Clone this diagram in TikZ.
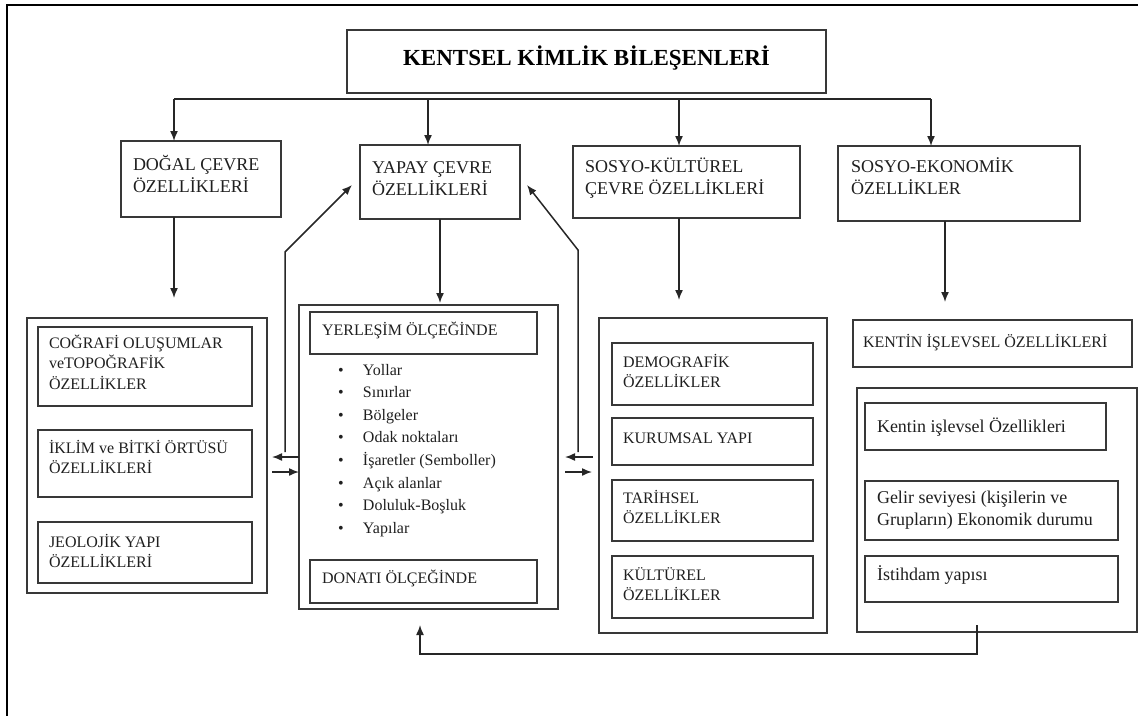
\documentclass[tikz,border=0pt]{standalone}
\usepackage{fontspec}
\setmainfont{Liberation Serif}
\usetikzlibrary{arrows.meta,calc}
\newcommand\mystrut{\rule{0pt}{1em}}
\newcommand\fntTwo{\fontsize{18}{22}\selectfont}
\newcommand\fntThree{\fontsize{16}{20.5}\selectfont}
\newcommand\fntList{\fontsize{16}{22.6}\selectfont}
\newcommand\fntRight{\fontsize{18}{22.5}\selectfont}
\begin{document}
\begin{tikzpicture}[x=1pt,y=-1pt,
  box/.style={draw=black!78, line width=1.7pt, rectangle, inner sep=0pt, outer sep=0pt, anchor=north west},
  lbl/.style={anchor=north west, inner sep=0pt, outer sep=0pt, align=left, text=black!88},
  ln/.style={draw=black!85, line width=1.5pt},
  arr/.style={ln, -{Latex[length=10pt,width=8pt]}},
  frameline/.style={draw=black, line width=2pt}]
\useasboundingbox (0,0) rectangle (1138,715);
\draw[frameline] (7,716) -- (7,5) -- (1139,5);

% title
\node[box, minimum width=479pt, minimum height=63pt] (title) at (347,30) {};
\node[anchor=base, inner sep=0pt, font=\fontsize{23}{27}\selectfont\bfseries] (tTitle) at (586.5,65) {KENTSEL KİMLİK BİLEŞENLERİ};

% level 2
\node[box, minimum width=160pt, minimum height=76pt] (dogal) at (121,141) {};
\node[box, minimum width=160pt, minimum height=74pt] (yapay) at (360,145) {};
\node[box, minimum width=227pt, minimum height=72pt] (sosk) at (573,146) {};
\node[box, minimum width=242pt, minimum height=75pt] (sose) at (838,146) {};
\node[lbl, font=\fntTwo] (tDogal) at (133,152) {\mystrut DOĞAL ÇEVRE\\ÖZELLİKLERİ};
\node[lbl, font=\fntTwo] (tYapay) at (372,155) {\mystrut YAPAY ÇEVRE\\ÖZELLİKLERİ};
\node[lbl, font=\fntTwo] (tSosk) at (585,154) {\mystrut SOSYO-KÜLTÜREL\\ÇEVRE ÖZELLİKLERİ};
\node[lbl, font=\fntTwo] (tSose) at (851,154) {\mystrut SOSYO-EKONOMİK\\ÖZELLİKLER};

% top connectors
\coordinate (h1) at (174,99);
\coordinate (h2) at (428,99);
\coordinate (h3) at (679,99);
\coordinate (h4) at (931,99);
\draw[ln] (h1) -- (h4);
\draw[arr] (h1) -- (h1 |- dogal.north);
\draw[arr] (h2) -- (h2 |- yapay.north);
\draw[arr] (h3) -- (h3 |- sosk.north);
\draw[arr] (h4) -- (h4 |- sose.north);

% down arrows
\coordinate (d1) at (174,298);
\coordinate (d2) at (440,303);
\coordinate (d3) at (679,300);
\coordinate (d4) at (945,302);
\draw[arr] (d1 |- dogal.south) -- (d1);
\draw[arr] (d2 |- yapay.south) -- (d2);
\draw[arr] (d3 |- sosk.south) -- (d3);
\draw[arr] (d4 |- sose.south) -- (d4);

% left column
\node[box, minimum width=240pt, minimum height=275pt] (L) at (27,318) {};
\node[box, minimum width=214pt, minimum height=79pt] (L1) at (38,327) {};
\node[box, minimum width=214pt, minimum height=67pt] (L2) at (38,430) {};
\node[box, minimum width=214pt, minimum height=61pt] (L3) at (38,522) {};
\node[lbl, font=\fntThree] (tL1) at (49,332) {\mystrut COĞRAFİ OLUŞUMLAR\\veTOPOĞRAFİK\\ÖZELLİKLER};
\node[lbl, font=\fntThree] (tL2) at (49,437) {\mystrut İKLİM ve BİTKİ ÖRTÜSÜ\\ÖZELLİKLERİ};
\node[lbl, font=\fntThree] (tL3) at (49,531) {\mystrut JEOLOJİK YAPI\\ÖZELLİKLERİ};

% middle column
\node[box, minimum width=259pt, minimum height=304pt] (Y) at (299,305) {};
\node[box, minimum width=227pt, minimum height=42pt] (Y1) at (310,312) {};
\node[box, minimum width=227pt, minimum height=43pt] (Y2) at (310,560) {};
\node[lbl, font=\fntThree] (tY1) at (322,319) {\mystrut YERLEŞİM ÖLÇEĞİNDE};
\node[lbl, font=\fntList] (tList) at (338,359) {\mystrut\makebox[25pt][l]{\textbullet}Yollar\\
\makebox[25pt][l]{\textbullet}Sınırlar\\
\makebox[25pt][l]{\textbullet}Bölgeler\\
\makebox[25pt][l]{\textbullet}Odak noktaları\\
\makebox[25pt][l]{\textbullet}İşaretler (Semboller)\\
\makebox[25pt][l]{\textbullet}Açık alanlar\\
\makebox[25pt][l]{\textbullet}Doluluk-Boşluk\\
\makebox[25pt][l]{\textbullet}Yapılar};
\node[lbl, font=\fntThree] (tY2) at (322,567) {\mystrut DONATI ÖLÇEĞİNDE};

% socio-cultural column
\node[box, minimum width=228pt, minimum height=315pt] (S) at (599,318) {};
\node[box, minimum width=201pt, minimum height=62pt] (S1) at (612,343) {};
\node[box, minimum width=201pt, minimum height=47pt] (S2) at (612,418) {};
\node[box, minimum width=201pt, minimum height=61pt] (S3) at (612,480) {};
\node[box, minimum width=201pt, minimum height=62pt] (S4) at (612,556) {};
\node[lbl, font=\fntThree] (tS1) at (623,351) {\mystrut DEMOGRAFİK\\ÖZELLİKLER};
\node[lbl, font=\fntThree] (tS2) at (623,427) {\mystrut KURUMSAL YAPI};
\node[lbl, font=\fntThree] (tS3) at (623,487) {\mystrut TARİHSEL\\ÖZELLİKLER};
\node[lbl, font=\fntThree] (tS4) at (623,564) {\mystrut KÜLTÜREL\\ÖZELLİKLER};

% socio-economic column
\node[box, minimum width=279pt, minimum height=47pt] (K) at (853,320) {};
\node[lbl, font=\fntThree] (tK) at (863,331) {\mystrut KENTİN İŞLEVSEL ÖZELLİKLERİ};
\node[box, minimum width=280pt, minimum height=244pt] (E) at (857,388) {};
\node[box, minimum width=241pt, minimum height=47pt] (E1) at (865,403) {};
\node[box, minimum width=253pt, minimum height=59pt] (E2) at (865,481) {};
\node[box, minimum width=253pt, minimum height=46pt] (E3) at (865,556) {};
\node[lbl, font=\fntRight] (tE1) at (877,414) {\mystrut Kentin işlevsel Özellikleri};
\node[lbl, font=\fntRight] (tE2) at (877,485) {\mystrut Gelir seviyesi (kişilerin ve\\Grupların) Ekonomik durumu};
\node[lbl, font=\fntRight] (tE3) at (877,562) {\mystrut İstihdam yapısı};

% left feedback
\coordinate (la) at (285,452);
\coordinate (lb) at (285,252);
\coordinate (lt) at (352,185);
\draw[arr] (la) -- (lb) -- (lt);
\coordinate (lw1) at (272,457);
\coordinate (lw2) at (272,472);
\draw[arr] (lw1 -| Y.west) -- (lw1);
\draw[arr] (lw2) -- (lw2 -| Y.west);

% right feedback
\coordinate (ra) at (578,452);
\coordinate (rb) at (578,250);
\coordinate (rt) at (527,185);
\draw[arr] (ra) -- (rb) -- (rt);
\coordinate (rw1s) at (593,457);
\coordinate (rw1) at (565,457);
\coordinate (rw2s) at (565,472);
\coordinate (rw2) at (592,472);
\draw[arr] (rw1s) -- (rw1);
\draw[arr] (rw2s) -- (rw2);

% bottom feedback
\coordinate (b0) at (977,625);
\coordinate (b1) at (977,654);
\coordinate (b2) at (420,654);
\coordinate (b3) at (420,625);
\draw[arr] (b0) -- (b1) -- (b2) -- (b3);
\end{tikzpicture}
\end{document}
